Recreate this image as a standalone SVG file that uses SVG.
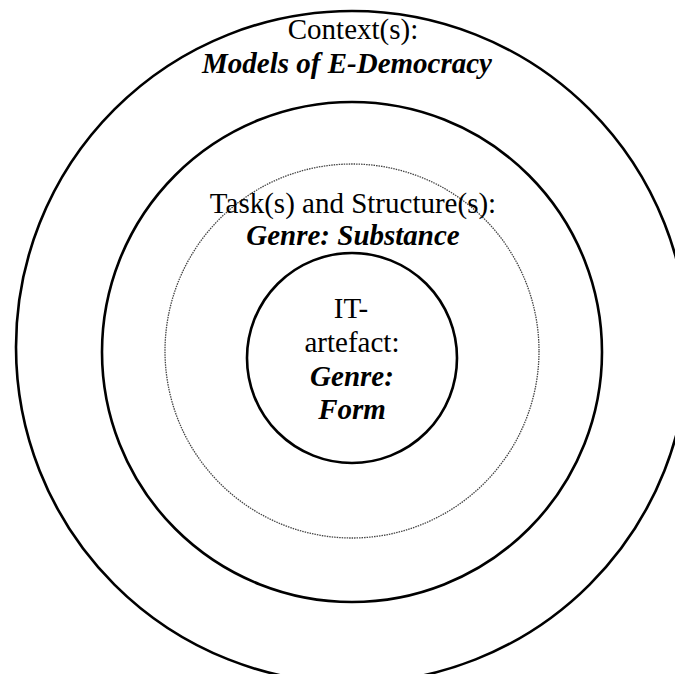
<svg xmlns="http://www.w3.org/2000/svg" width="675" height="674" viewBox="0 0 675 674">
<style>
.ring{fill:none;stroke:#000;stroke-width:2.6}
.dot{fill:none;stroke:#444;stroke-width:1.3;stroke-dasharray:1.5 1}
text{font-family:"Liberation Serif","Times New Roman",serif;font-size:29px;text-anchor:middle;fill:#000}
.bi{font-weight:bold;font-style:italic}
</style>
<rect width="675" height="674" fill="#fff"/>
<g id="context">
<circle class="ring" cx="352" cy="347" r="336"/>
<text x="353" y="39">Context(s):</text>
<text class="bi" x="347" y="73">Models of E-Democracy</text>
</g>
<g id="task">
<circle class="ring" cx="352" cy="352" r="250"/>
</g>
<g id="structure">
<circle class="dot" cx="352" cy="351" r="187"/>
<text x="353" y="213">Task(s) and Structure(s):</text>
<text class="bi" x="353" y="245">Genre: Substance</text>
</g>
<g id="artefact">
<circle class="ring" cx="352" cy="358" r="105"/>
<text x="351" y="318">IT-</text>
<text x="352" y="352">artefact:</text>
<text class="bi" x="352" y="386">Genre:</text>
<text class="bi" x="352" y="419">Form</text>
</g>
<g id="connectors"/>
</svg>
